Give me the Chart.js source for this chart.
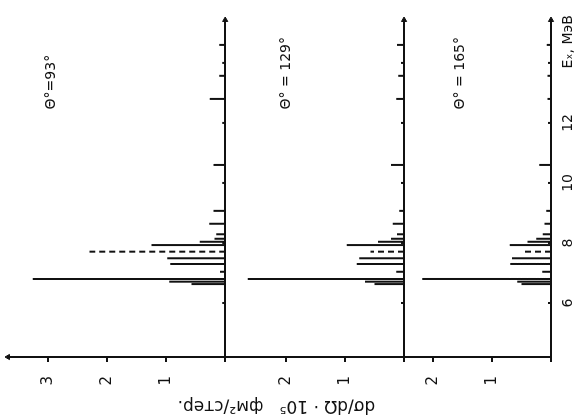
<!DOCTYPE html>
<html>
<head>
<meta charset="utf-8">
<script src="https://cdn.jsdelivr.net/npm/chart.js@4/dist/chart.umd.min.js"></script>
<style>
  html, body { margin: 0; padding: 0; background: #fff; overflow: hidden; }
  /* the figure is drawn upright and then turned a quarter turn, like the scanned page */
  #wrap {
    position: absolute; left: 0; top: 0; width: 419px; height: 581px;
    transform: translate(81px, -81px) rotate(-90deg);
  }
</style>
</head>
<body>
<div id="wrap"><canvas id="c" width="419" height="581"></canvas></div>
<script>
// excitation energies of the levels, MeV
const levels   = [6.63, 6.71, 6.8, 7.04, 7.3, 7.49, 7.71, 7.93, 8.04, 8.14, 8.29, 8.64, 9.07, 10.6, 12.8, 13.57, 14.6];
const dashed   = [false, false, false, false, false, false, true, false, false, false, false, false, false, false, false, true, false];
// dσ/dΩ · 10^5, fm²/sr, one list per angle
const sigma93  = [0.57, 0.95, 3.26, 0.09, 0.93, 0.98, 2.3, 1.25, 0.43, 0.18, 0.15, 0.27, 0.2, 0.2, 0.26, 0.15, 0.1];
const sigma129 = [0.5, 0.66, 2.65, 0.13, 0.8, 0.76, 0.57, 0.97, 0.44, 0.22, 0.12, 0.19, 0.08, 0.22, 0.13, 0.1, 0.12];
const sigma165 = [0.5, 0.57, 2.18, 0.15, 0.69, 0.66, 0.5, 0.7, 0.4, 0.25, 0.14, 0.11, 0.08, 0.2, 0.06, 0.06, 0.07];

const angleLabels  = ["Θ°=93°", "Θ° = 129°", "Θ° = 165°"];
const exTicks      = [6, 8, 10, 12, 14.7];
const exTickLabels = ["6", "8", "10", "12", "Eₓ, МэВ"];
const baseDots     = [6, 8, 10, 12, 14];
const sigmaTicks   = [[0, 1, 2, 3], [0, 1, 2], [0, 1, 2]];
const sigmaMax     = [3.68, 3.03, 2.49];
const exMin = 4.2, exMax = 15.43;
const yTitle = "dσ/dΩ · 10⁵   фм²/стер.";

const panels = [
  {id: "y1", vals: sigma93},
  {id: "y2", vals: sigma129},
  {id: "y3", vals: sigma165}
];

Chart.defaults.font.family = '"DejaVu Sans", sans-serif';
Chart.defaults.font.size = 14;
Chart.defaults.color = "#111";

function segs(vals, wantDashed){
  let pts = [];
  levels.forEach((e, i)=>{
    if(dashed[i] !== wantDashed) return;
    pts.push({x: e, y: 0}, {x: e, y: vals[i]}, {x: e, y: null});
  });
  return pts;
}

let datasets = [];
panels.forEach((p, i)=>{
  datasets.push({data: segs(p.vals, false), yAxisID: p.id, borderColor: "#111", borderWidth: 2, pointRadius: 0});
  datasets.push({data: segs(p.vals, true), yAxisID: p.id, borderColor: "#111", borderWidth: 2, borderDash: [6, 4], pointRadius: 0});
  datasets.push({
    data: baseDots.map((e)=>({x: e, y: 0})), yAxisID: p.id, showLine: false,
    pointStyle: "line", pointRotation: 90, pointRadius: 3, borderColor: "#111", borderWidth: 2
  });
  // arrow at the high-energy end of each baseline
  datasets.push({
    data: [{x: exMax, y: 0}], yAxisID: p.id, showLine: false, clip: false,
    pointStyle: "triangle", pointRotation: 90, pointRadius: 3,
    backgroundColor: "#111", borderColor: "#111", borderWidth: 1
  });
});
datasets.push({
  data: [{x: exMin, y: sigmaMax[0]}], yAxisID: "y1", showLine: false, clip: false,
  pointStyle: "triangle", pointRadius: 3, backgroundColor: "#111", borderColor: "#111", borderWidth: 1
});

function sigmaScale(i){
  return {
    type: "linear", position: "left", stack: "sig",
    stackWeight: sigmaMax[i], weight: 3 - i,
    min: 0, max: sigmaMax[i],
    border: {display: true, color: "#111", width: 2},
    grid: {
      drawOnChartArea: true, drawTicks: true, tickLength: 5, tickColor: "#111", lineWidth: 2,
      color: (ctx)=> (ctx.tick && ctx.tick.value === 0) ? "#111" : "rgba(0,0,0,0)"
    },
    afterBuildTicks: (s)=>{ s.ticks = sigmaTicks[i].map((v)=>({value: v})); },
    ticks: {padding: 14, font: {size: 15}, callback: (v)=> v === 0 ? "" : String(v)},
    afterFit: (s)=>{ s.width = 62; s.paddingTop = 0; s.paddingBottom = 0; }
  };
}

const textPlugin = {
  id: "texts",
  afterDraw(chart){
    const ctx = chart.ctx;
    const area = chart.chartArea;
    const x = chart.scales.x;
    const labelAt = [2.94, 2.0, 1.54];
    ctx.save();
    ctx.fillStyle = "#111";
    ctx.font = '14px "DejaVu Sans", sans-serif';
    ctx.textAlign = "left";
    ctx.textBaseline = "middle";
    panels.forEach((p, i)=>{
      const ys = chart.scales[p.id];
      ctx.fillText(angleLabels[i], x.getPixelForValue(12.45), ys.getPixelForValue(labelAt[i]));
    });
    ctx.font = '17px "DejaVu Sans", sans-serif';
    ctx.translate(14, (area.top + area.bottom) / 2 - 3);
    ctx.rotate(-Math.PI / 2);
    ctx.textAlign = "center";
    ctx.fillText(yTitle, 0, 0);
    ctx.restore();
  }
};

new Chart(document.getElementById("c"), {
  type: "line",
  data: {datasets: datasets},
  plugins: [textPlugin],
  options: {
    responsive: false,
    animation: false,
    devicePixelRatio: 1,
    layout: {padding: {top: 8, right: 20, left: 0, bottom: 0}},
    plugins: {legend: {display: false}, tooltip: {enabled: false}},
    elements: {line: {tension: 0}},
    scales: {
      x: {
        type: "linear", position: "bottom", min: exMin, max: exMax,
        border: {display: true, color: "#111", width: 2},
        grid: {display: true, drawOnChartArea: false, drawTicks: false},
        afterBuildTicks: (s)=>{ s.ticks = exTicks.map((v)=>({value: v})); },
        ticks: {
          padding: 9, autoSkip: false, maxRotation: 0,
          callback: (v)=> exTickLabels[exTicks.indexOf(v)]
        },
        afterFit: (s)=>{ s.height = 30; s.paddingLeft = 0; s.paddingRight = 0; }
      },
      y1: sigmaScale(0),
      y2: sigmaScale(1),
      y3: sigmaScale(2)
    }
  }
});
</script>
</body>
</html>
